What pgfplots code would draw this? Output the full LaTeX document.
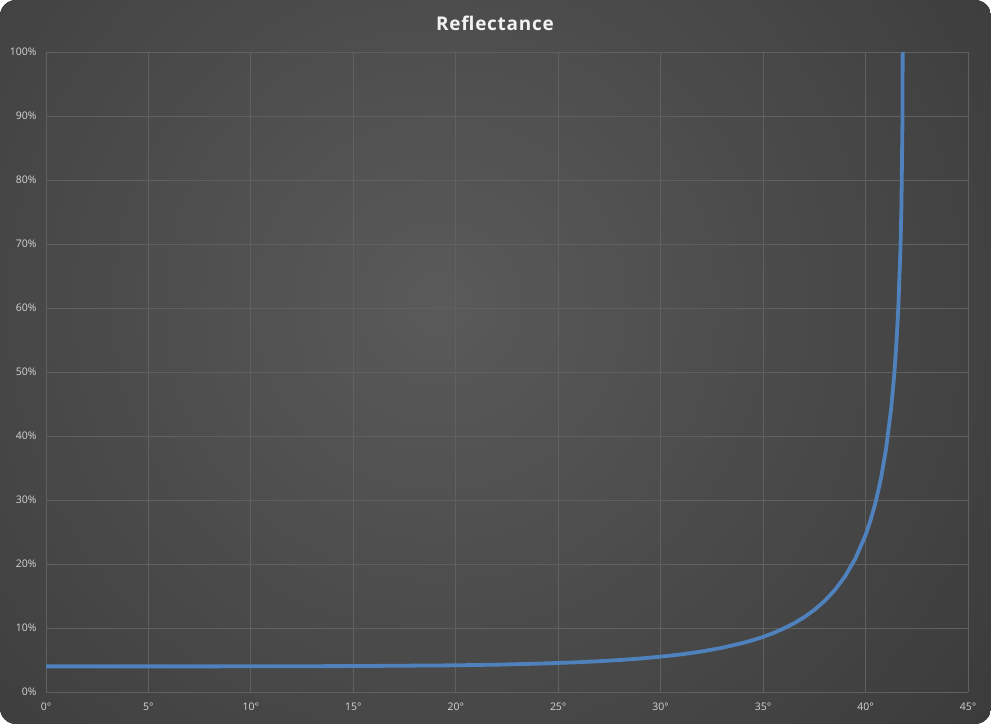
\documentclass[border=0pt]{standalone}
\usepackage{fontspec}
\setmainfont{Open Sans}
\usepackage{pgfplots}
\pgfplotsset{compat=1.18}

\definecolor{bginner}{RGB}{90,90,90}
\definecolor{bgouter}{RGB}{34,34,34}
\definecolor{gridcol}{RGB}{96,96,96}
\definecolor{curve}{RGB}{79,129,189}
\definecolor{ticktext}{RGB}{215,215,215}
\definecolor{titletext}{RGB}{242,242,242}

% Unpolarised reflectance, glass (n = 1.5) to air, against angle of incidence
\pgfplotstableread{
angle R
0      0.0400
5      0.0400
10     0.0401
15     0.0405
20     0.0417
22     0.0427
24     0.0443
26     0.0465
27     0.0481
28     0.0500
29     0.0523
30     0.0552
31     0.0588
32     0.0633
33     0.0691
34     0.0765
34.5   0.0810
35     0.0861
35.5   0.0921
36     0.0991
36.5   0.1072
37     0.1168
37.5   0.1283
38     0.1422
38.5   0.1593
39     0.1807
39.5   0.2083
40     0.2453
40.25  0.2690
40.5   0.2977
40.75  0.3334
41     0.3798
41.25  0.4434
41.4   0.4960
41.5   0.5416
41.6   0.6015
41.7   0.6896
41.75  0.7584
41.8   0.8906
41.81  1.0000
}\reflectance

\begin{document}
\begin{tikzpicture}[x=1bp,y=1bp]
\useasboundingbox (0,0) rectangle (991,724);
\begin{scope}
  \clip[rounded corners=16bp] (0,0) rectangle (991,724);
  \fill[bgouter] (0,0) rectangle (991,724);
  \shade[inner color=bginner, outer color=bgouter] (440,420) circle (1250);
\end{scope}
\node[text=titletext, font=\addfontfeatures{LetterSpace=4}\bfseries\fontsize{19}{21}\selectfont,
      anchor=center] at (495,701) {Reflectance};
\begin{axis}[
  at={(46bp,32bp)}, anchor=south west,
  scale only axis, width=922bp, height=640bp,
  xmin=0, xmax=45, ymin=0, ymax=1,
  xtick={0,5,...,45}, ytick={0,0.1,...,1.0},
  xticklabel={\pgfmathprintnumber{\tick}\textdegree},
  yticklabel={\pgfmathparse{round(\tick*100)}\pgfmathprintnumber[fixed,precision=0]{\pgfmathresult}\%},
  /pgf/number format/assume math mode=true,
  tick label style={text=ticktext, font=\fontsize{10.5}{12}\selectfont},
  xticklabel style={yshift=-7bp},
  yticklabel style={xshift=-6bp},
  major tick length=0pt,
  grid=major,
  grid style={gridcol, line width=0.8bp},
  axis line style={draw=none},
  clip=true,
]
\addplot[curve, line width=3.8bp, line join=round] table[x=angle, y=R] {\reflectance};
\end{axis}
\end{tikzpicture}
\end{document}
